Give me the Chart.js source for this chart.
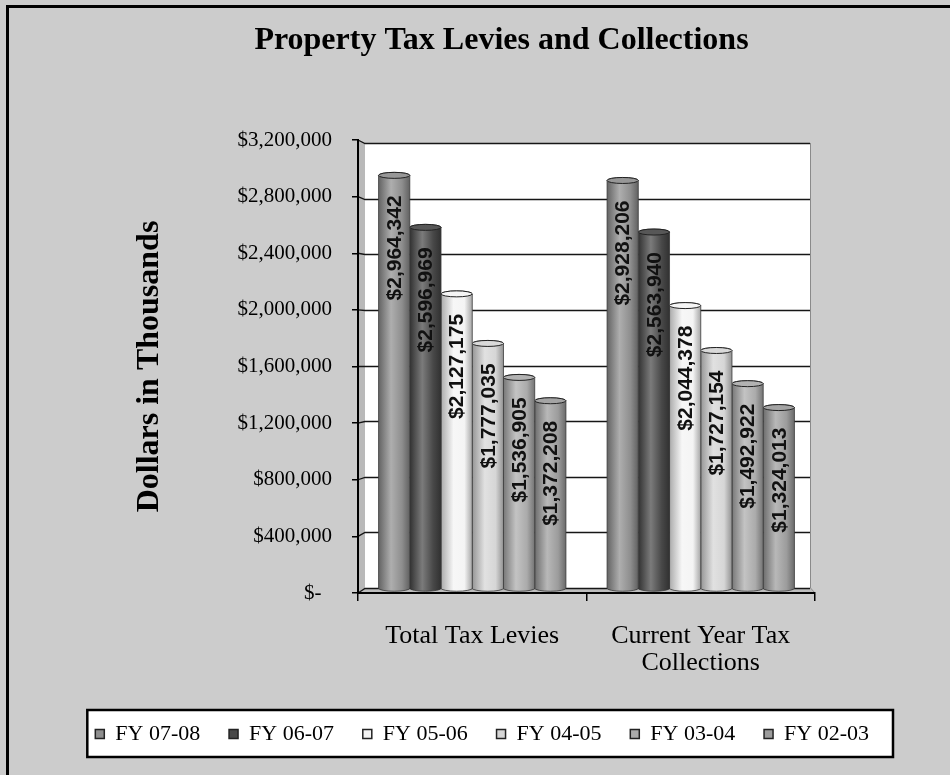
<!DOCTYPE html>
<html>
<head>
<meta charset="utf-8">
<title>Property Tax Levies and Collections</title>
<script src="https://cdn.jsdelivr.net/npm/chart.js@4.4.1/dist/chart.umd.min.js"></script>
<style>
  html, body { margin: 0; padding: 0; background: #cccccc; overflow: hidden; }
  #frame { position: absolute; left: 6px; top: 5px; width: 1000px; height: 1000px; border: 3px solid #000; }
  #wrap { position: absolute; left: 0; top: 0; width: 950px; height: 775px; }
</style>
</head>
<body>
<div id="frame"></div>
<div id="wrap"><canvas id="taxChart"></canvas></div>
<script>
// Levies and collections, dollars in thousands
const categories = [['Total Tax Levies'], ['Current Year Tax', 'Collections']];
const fiscalYears = ['FY 07-08', 'FY 06-07', 'FY 05-06', 'FY 04-05', 'FY 03-04', 'FY 02-03'];
const totalLevies = [2964342, 2596969, 2127175, 1777035, 1536905, 1372208];
const currentCollections = [2928206, 2563940, 2044378, 1727154, 1492922, 1324013];
const yMax = 3200000;
const yStep = 400000;

const barColors = ['#8e8e8e', '#484848', '#f4f4f4', '#d6d6d6', '#ababab', '#9c9c9c'];
const serif = '"Liberation Serif", "Times New Roman", serif';
const sans = '"Liberation Sans", Arial, sans-serif';

function shade(hex, amt) {
    const n = parseInt(hex.slice(1), 16);
    const t = amt < 0 ? 0 : 255, p = Math.abs(amt);
    const mix = c => Math.round(c + (t - c) * p);
    return `rgb(${mix(n >> 16)},${mix((n >> 8) & 255)},${mix(n & 255)})`;
}

function money(v) {
    return '$' + v.toLocaleString('en-US');
}

// back wall, side wall, floor and the legend frame
const wallPlugin = {
    id: 'wall',
    beforeDraw(chart) {
        const ctx = chart.ctx;
        const {left, right, top, bottom} = chart.chartArea;
        const dx = 7, rIn = 5;
        const backTop = top + 3, backBottom = bottom - 5;
        const toBack = py => backTop + (py - top) * (backBottom - backTop) / (bottom - top);
        ctx.save();
        ctx.fillStyle = '#ffffff';
        ctx.fillRect(left + dx, backTop, right - rIn - left - dx, backBottom - backTop);

        ctx.fillStyle = '#b9b9b9';
        ctx.beginPath();
        ctx.moveTo(left, top);
        ctx.lineTo(left + dx, backTop);
        ctx.lineTo(left + dx, backBottom);
        ctx.lineTo(left, bottom);
        ctx.closePath();
        ctx.fill();

        ctx.fillStyle = '#bdbdbd';
        ctx.beginPath();
        ctx.moveTo(left, bottom);
        ctx.lineTo(left + dx, backBottom);
        ctx.lineTo(right - rIn, backBottom);
        ctx.lineTo(right, bottom);
        ctx.closePath();
        ctx.fill();

        ctx.strokeStyle = '#8a8a8a';
        ctx.lineWidth = 1;
        ctx.beginPath();
        ctx.moveTo(right - rIn + 0.5, backTop);
        ctx.lineTo(right - rIn + 0.5, backBottom);
        ctx.lineTo(right, bottom);
        ctx.stroke();

        const y = chart.scales.y;
        ctx.strokeStyle = '#161616';
        ctx.lineWidth = 1.3;
        y.ticks.forEach(t => {
            const yf = y.getPixelForValue(t.value);
            const yb = Math.round(toBack(yf)) + 0.5;
            ctx.beginPath();
            ctx.moveTo(left, yf);
            ctx.lineTo(left + dx, yb);
            ctx.lineTo(right - rIn, yb);
            ctx.stroke();
        });

        const hb = chart.legend.legendHitBoxes;
        if (hb && hb.length) {
            const first = hb[0], last = hb[hb.length - 1];
            const cy = first.top + first.height / 2;
            const bx = first.left - 8, bw = last.left + last.width + 24 - bx;
            ctx.fillStyle = '#ffffff';
            ctx.fillRect(bx, cy - 24, bw, 47);
            ctx.strokeStyle = '#000';
            ctx.lineWidth = 2.5;
            ctx.strokeRect(bx, cy - 24, bw, 47);
        }
        ctx.restore();
    }
};

// bars drawn as shaded cylinders on the bar geometry
const cylinderPlugin = {
    id: 'cylinders',
    beforeDatasetDraw(chart, args) {
        const ctx = chart.ctx;
        const color = barColors[args.index];
        ctx.save();
        args.meta.data.forEach(bar => {
            const {x, y, base, width} = bar.getProps(['x', 'y', 'base', 'width'], true);
            const l = x - width / 2, r = x + width / 2, rx = width / 2, ry = 3;
            const topY = y + 2, botY = base - 4;
            const g = ctx.createLinearGradient(l, 0, r, 0);
            g.addColorStop(0, shade(color, -0.3));
            g.addColorStop(0.4, shade(color, 0.28));
            g.addColorStop(0.75, color);
            g.addColorStop(1, shade(color, -0.32));
            ctx.beginPath();
            ctx.moveTo(l, topY);
            ctx.lineTo(l, botY);
            ctx.ellipse(x, botY, rx, ry, 0, Math.PI, 0, true);
            ctx.lineTo(r, topY);
            ctx.ellipse(x, topY, rx, ry, 0, 0, Math.PI, true);
            ctx.closePath();
            ctx.fillStyle = g;
            ctx.fill();
            ctx.strokeStyle = '#3a3a3a';
            ctx.lineWidth = 0.8;
            ctx.stroke();
            ctx.beginPath();
            ctx.ellipse(x, topY, rx, ry, 0, 0, Math.PI * 2);
            ctx.fillStyle = shade(color, 0.08);
            ctx.fill();
            ctx.strokeStyle = '#222';
            ctx.lineWidth = 1;
            ctx.stroke();
        });
        ctx.restore();
        return false;
    },
    afterDatasetsDraw(chart) {
        const ctx = chart.ctx;
        ctx.save();
        ctx.font = 'bold 21px ' + sans;
        ctx.fillStyle = '#111';
        ctx.textAlign = 'right';
        ctx.textBaseline = 'middle';
        chart.data.datasets.forEach((ds, i) => {
            chart.getDatasetMeta(i).data.forEach((bar, j) => {
                ctx.save();
                ctx.translate(bar.x + 1, bar.y + 22);
                ctx.rotate(-Math.PI / 2);
                ctx.fillText(money(ds.data[j]), 0, 0);
                ctx.restore();
            });
        });
        ctx.restore();
    }
};

const datasets = fiscalYears.map((fy, i) => ({
    label: fy,
    data: [totalLevies[i], currentCollections[i]],
    backgroundColor: barColors[i],
    borderColor: '#222',
    borderWidth: 1.5,
    yAxisID: 'y',
    categoryPercentage: 0.82,
    barPercentage: 1.0,
}));

const taxChart = new Chart(document.getElementById('taxChart'), {
    type: 'bar',
    data: { labels: categories, datasets: datasets },
    plugins: [wallPlugin, cylinderPlugin],
    options: {
        responsive: true,
        maintainAspectRatio: false,
        animation: false,
        layout: { padding: { left: 66.5, right: 13.5, top: 0, bottom: 20 } },
        plugins: {
            title: {
                display: true,
                text: 'Property Tax Levies and Collections',
                color: '#000',
                font: { family: serif, size: 32, weight: 'bold' },
                padding: { top: 22, bottom: 79.6 },
            },
            legend: {
                position: 'bottom',
                align: 'start',
                labels: {
                    color: '#000',
                    font: { family: serif, size: 22 },
                    boxWidth: 9,
                    boxHeight: 9,
                    padding: 28.8,
                },
            },
            tooltip: { enabled: false },
        },
        scales: {
            x: {
                grid: { drawOnChartArea: false, tickLength: 8, color: '#000', lineWidth: 1.5, offset: true },
                border: { display: true, color: '#000', width: 2 },
                ticks: {
                    color: '#000',
                    font: { family: serif, size: 26, lineHeight: 1.05 },
                    padding: 21.4,
                    maxRotation: 0,
                    autoSkip: false,
                },
                afterFit: s => { s.height = 101.2; },
            },
            y: {
                position: 'left',
                min: 0,
                max: yMax,
                grid: { drawOnChartArea: false, tickLength: 6, color: '#000', lineWidth: 1.5 },
                border: { display: true, color: '#000', width: 2 },
                ticks: {
                    stepSize: yStep,
                    color: '#000',
                    font: { family: serif, size: 21 },
                    padding: 20,
                    callback: v => v === 0 ? '$-  ' : money(v),
                },
                title: {
                    display: true,
                    text: 'Dollars in Thousands',
                    color: '#000',
                    font: { family: serif, size: 32, weight: 'bold' },
                    padding: { top: 64.3, bottom: 0 },
                },
                afterFit: s => { s.width = 291.5; },
            },
            // empty right-hand strip so the plot stops short of the legend frame
            yR: {
                position: 'right',
                display: true,
                grid: { display: false },
                border: { display: false },
                ticks: { display: false },
                afterFit: s => { s.width = 121.5; },
            },
        },
    },
});
</script>
</body>
</html>
